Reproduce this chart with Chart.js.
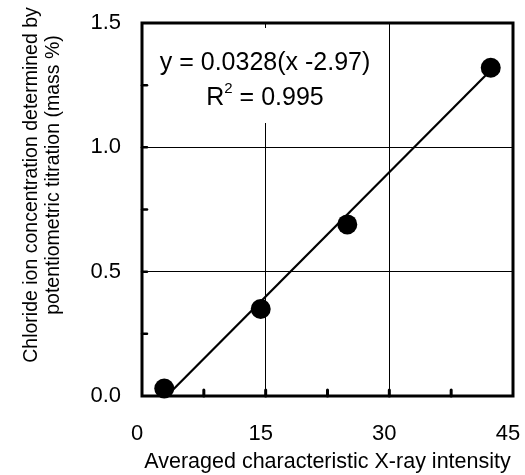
<!DOCTYPE html>
<html>
<head>
<meta charset="utf-8">
<script src="https://cdn.jsdelivr.net/npm/chart.js@4.4.1/dist/chart.umd.min.js"></script>
<style>
  body { margin: 0; background: #fff; }
</style>
</head>
<body>
<canvas id="chart" width="525" height="475"></canvas>
<script>
// measured points
const xValues = [2.7, 14.4, 24.9, 42.3];
const yValues = [0.03, 0.35, 0.69, 1.32];

// regression line ends
const fitX = [3.0, 42.3];
const fitY = [0.0, 1.31];

const xTickLabels = [0, 15, 30, 45];
const yTickLabels = [0.0, 0.5, 1.0, 1.5];

const xTitle = 'Averaged characteristic X-ray intensity';
const yTitle = ['Chloride ion concentration determined by', 'potentiometric titration (mass %)'];
const eqLine = 'y = 0.0328(x -2.97)';
const r2Value = '0.995';

const FONT = '"Liberation Sans", Arial, sans-serif';

// border, inward tick marks, x labels, equation box, y title
const decorations = {
  id: 'decorations',
  beforeDatasetsDraw(chart) {
    const { ctx } = chart;
    // white box behind the equation hides the grid line
    ctx.save();
    ctx.fillStyle = '#fff';
    ctx.fillRect(155, 28, 218, 95);
    ctx.restore();
  },
  afterDatasetsDraw(chart) {
    const { ctx, chartArea: a, scales } = chart;
    ctx.save();
    ctx.strokeStyle = '#000';
    ctx.lineCap = 'round';
    ctx.lineWidth = 3;
    scales.x.ticks.forEach(t => {
      if (t.value <= scales.x.min || t.value >= scales.x.max) return;
      const px = scales.x.getPixelForValue(t.value);
      ctx.beginPath();
      ctx.moveTo(px, a.bottom);
      ctx.lineTo(px, a.bottom - 6);
      ctx.stroke();
    });
    ctx.lineWidth = 2.5;
    scales.y.ticks.forEach(t => {
      if (t.value <= scales.y.min || t.value >= scales.y.max) return;
      const py = scales.y.getPixelForValue(t.value);
      ctx.beginPath();
      ctx.moveTo(a.left, py);
      ctx.lineTo(a.left + 5, py);
      ctx.stroke();
    });
    ctx.lineCap = 'butt';
    ctx.lineWidth = 3;
    ctx.strokeRect(a.left, a.top, a.right - a.left, a.bottom - a.top);

    // x tick labels sit a little left of their ticks in the original
    ctx.fillStyle = '#000';
    ctx.textBaseline = 'middle';
    ctx.textAlign = 'center';
    ctx.font = '22px ' + FONT;
    xTickLabels.forEach(v => {
      ctx.fillText(String(v), scales.x.getPixelForValue(v) - 5, 434);
    });

    // equation
    ctx.font = '25px ' + FONT;
    ctx.fillText(eqLine, 265, 63);
    const base = 'R';
    const rest = ' = ' + r2Value;
    const wR = ctx.measureText(base).width;
    const wRest = ctx.measureText(rest).width;
    ctx.font = '15px ' + FONT;
    const wSup = ctx.measureText('2').width;
    const startX = 265 - (wR + wSup + wRest) / 2;
    ctx.textAlign = 'left';
    ctx.font = '25px ' + FONT;
    ctx.fillText(base, startX, 98);
    ctx.fillText(rest, startX + wR + wSup, 98);
    ctx.font = '15px ' + FONT;
    ctx.fillText('2', startX + wR, 89);

    // y title, two rotated lines
    ctx.save();
    ctx.rotate(-Math.PI / 2);
    ctx.textAlign = 'center';
    ctx.font = '19.5px ' + FONT;
    ctx.fillText(yTitle[0], -185, 32);
    ctx.fillText(yTitle[1], -175, 54);
    ctx.restore();
    ctx.restore();
  }
};

new Chart(document.getElementById('chart'), {
  type: 'scatter',
  data: {
    datasets: [
      {
        data: xValues.map((x, i) => ({ x: x, y: yValues[i] })),
        pointRadius: 10,
        pointHoverRadius: 10,
        backgroundColor: '#000',
        borderColor: '#000',
        borderWidth: 0,
        clip: false
      },
      {
        data: fitX.map((x, i) => ({ x: x, y: fitY[i] })),
        showLine: true,
        pointRadius: 0,
        borderColor: '#000',
        borderWidth: 2.2
      }
    ]
  },
  options: {
    responsive: false,
    animation: false,
    layout: { padding: { left: 0, top: 23, right: 12, bottom: 0 } },
    plugins: {
      legend: { display: false },
      tooltip: { enabled: false }
    },
    scales: {
      x: {
        type: 'linear',
        min: 0,
        max: 45,
        afterFit(scale) {
          scale.height = 79;
          scale.paddingLeft = 0;
          scale.paddingRight = 0;
        },
        afterBuildTicks(scale) {
          scale.ticks = [0, 7.5, 15, 22.5, 30, 37.5, 45].map(v => ({ value: v }));
        },
        ticks: { display: false },
        grid: {
          drawTicks: false,
          lineWidth: 1,
          color: ctx => (ctx.tick && (ctx.tick.value === 15 || ctx.tick.value === 30)) ? '#000' : 'rgba(0,0,0,0)'
        },
        border: { display: false },
        title: {
          display: true,
          text: xTitle,
          color: '#000',
          font: { family: FONT, size: 21.5 },
          padding: { top: 0, bottom: 0 }
        }
      },
      y: {
        type: 'linear',
        min: 0,
        max: 1.5,
        afterFit(scale) {
          scale.width = 142;
          scale.paddingTop = 0;
          scale.paddingBottom = 0;
        },
        afterBuildTicks(scale) {
          scale.ticks = [0, 0.25, 0.5, 0.75, 1.0, 1.25, 1.5].map(v => ({ value: v }));
        },
        ticks: {
          autoSkip: false,
          padding: 21,
          color: '#000',
          font: { family: FONT, size: 22 },
          callback: v => yTickLabels.some(t => Math.abs(t - v) < 1e-9) ? v.toFixed(1) : ''
        },
        grid: {
          drawTicks: false,
          lineWidth: 1,
          color: ctx => (ctx.tick && (ctx.tick.value === 0.5 || ctx.tick.value === 1.0)) ? '#000' : 'rgba(0,0,0,0)'
        },
        border: { display: false }
      }
    }
  },
  plugins: [decorations]
});
</script>
</body>
</html>
